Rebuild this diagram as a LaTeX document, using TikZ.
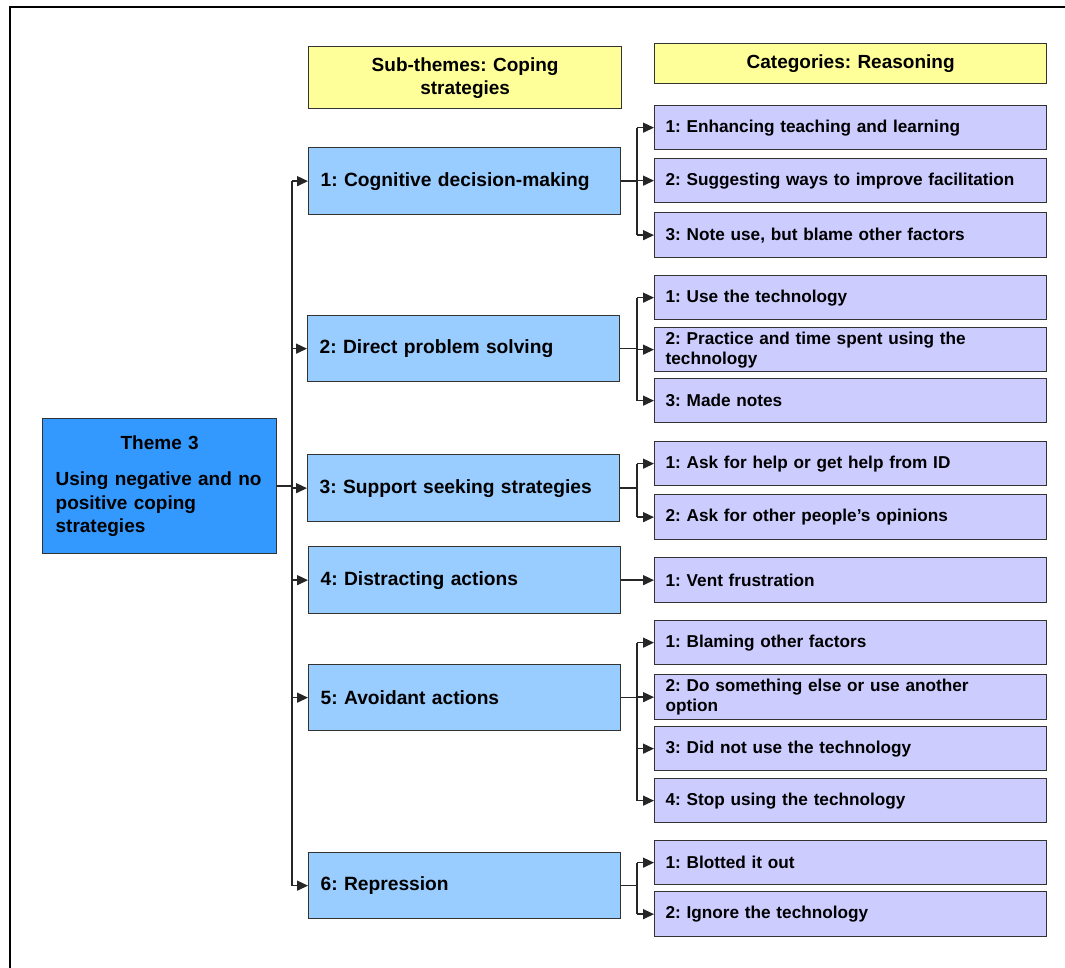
\documentclass[tikz,border=0pt]{standalone}
\usepackage{fontspec}
\setmainfont{Liberation Sans}
\usetikzlibrary{arrows.meta}
\frenchspacing

\definecolor{boxline}{HTML}{333333}
\definecolor{themefill}{HTML}{3399FF}
\definecolor{subfill}{HTML}{99CCFF}
\definecolor{catfill}{HTML}{CCCCFF}
\definecolor{headfill}{HTML}{FFFF99}

\tikzset{
  box/.style={draw=boxline, line width=1.3pt, anchor=north west, inner ysep=0pt},
  theme/.style={box, fill=themefill, text width=208pt, inner xsep=13pt,
    align=left, font=\bfseries\fontsize{19}{23.5}\selectfont\frenchspacing},
  header/.style={box, fill=headfill, align=center, inner xsep=4pt,
    font=\bfseries\fontsize{19}{23}\selectfont\frenchspacing},
  sub/.style={box, fill=subfill, minimum width=312pt, text width=288pt,
    inner xsep=12pt, align=left, font=\bfseries\fontsize{19.2}{23}\selectfont\frenchspacing},
  cat/.style={box, fill=catfill, minimum width=392pt, text width=370pt,
    inner xsep=11pt, align=left, font=\bfseries\fontsize{17.2}{20}\selectfont\frenchspacing},
  link/.style={draw=black!85, line width=1.4pt},
  arr/.style={link, -{Triangle[length=11pt,width=10pt]}}
}

\begin{document}
\begin{tikzpicture}[x=1pt, y=-1pt]
\useasboundingbox (0,0) rectangle (1065,968);
\clip (0,0) rectangle (1065,968);
\fill[white] (0,0) rectangle (1065,968);

% outer frame
\draw[line width=1.5pt, black] (10,7) rectangle (1090,990);

% column headers
\node[header, minimum width=313pt, minimum height=62pt, text width=305pt] (hsub) at (308,46)
  {Sub-themes: Coping\\strategies};
\node[header, minimum width=392pt, minimum height=40pt, text width=384pt] (hcat) at (654,43)
  {Categories: Reasoning};

% theme
\node[theme, minimum height=135pt] (theme) at (42,418)
  {\makebox[\linewidth][c]{Theme 3}\\[12.5pt]Using negative and no\\positive coping\\strategies};

% sub-themes
\node[sub, minimum height=67pt] (s1) at (308,147) {1: Cognitive decision-making};
\node[sub, minimum height=66pt] (s2) at (307,315) {2: Direct problem solving};
\node[sub, minimum height=67pt] (s3) at (307,454) {3: Support seeking strategies};
\node[sub, minimum height=67pt] (s4) at (308,546) {4: Distracting actions};
\node[sub, minimum height=66pt] (s5) at (308,664) {5: Avoidant actions};
\node[sub, minimum height=66pt] (s6) at (308,852) {6: Repression};

% categories
\node[cat, minimum height=44pt] (c11) at (654,105) {1: Enhancing teaching and learning};
\node[cat, minimum height=44pt] (c12) at (654,158) {2: Suggesting ways to improve facilitation};
\node[cat, minimum height=45pt] (c13) at (654,212) {3: Note use, but blame other factors};

\node[cat, minimum height=44pt, minimum width=390pt] (c21) at (654,275) {1: Use the technology};
\node[cat, minimum height=44pt, minimum width=390pt] (c22) at (654,327) {2: Practice and time spent using the\\technology};
\node[cat, minimum height=44pt, minimum width=389pt] (c23) at (654,378) {3: Made notes};

\node[cat, minimum height=44pt] (c31) at (654,441) {1: Ask for help or get help from ID};
\node[cat, minimum height=45pt] (c32) at (654,494) {2: Ask for other people’s opinions};

\node[cat, minimum height=45pt] (c41) at (654,557) {1: Vent frustration};

\node[cat, minimum height=44pt] (c51) at (654,620) {1: Blaming other factors};
\node[cat, minimum height=45pt] (c52) at (654,674) {2: Do something else or use another\\option};
\node[cat, minimum height=44pt] (c53) at (654,726) {3: Did not use the technology};
\node[cat, minimum height=44pt] (c54) at (654,778) {4: Stop using the technology};

\node[cat, minimum height=44pt] (c61) at (654,840) {1: Blotted it out};
\node[cat, minimum height=45pt] (c62) at (654,891) {2: Ignore the technology};

% connector rails
\coordinate (trunk) at (292,0);
\coordinate (rail) at (637,0);

% theme to sub-themes
\draw[link] (theme.east) -- (trunk |- theme.east);
\draw[link] (trunk |- s1.west) -- (trunk |- s6.west);
\foreach \s in {s1,s2,s3,s4,s5,s6}
  \draw[arr] (trunk |- \s.west) -- (\s.west);

% sub-themes to categories
\foreach \s/\first/\last in {s1/c11/c13, s2/c21/c23, s3/c31/c32, s5/c51/c54, s6/c61/c62} {
  \draw[link] (\s.east) -- (rail |- \s.east);
  \draw[link] (rail |- \first.west) -- (rail |- \last.west);
}
\foreach \c in {c11,c12,c13,c21,c22,c23,c31,c32,c51,c52,c53,c54,c61,c62}
  \draw[arr] (rail |- \c.west) -- (\c.west);
\draw[arr] (s4.east) -- (s4.east -| c41.west);
\end{tikzpicture}
\end{document}
